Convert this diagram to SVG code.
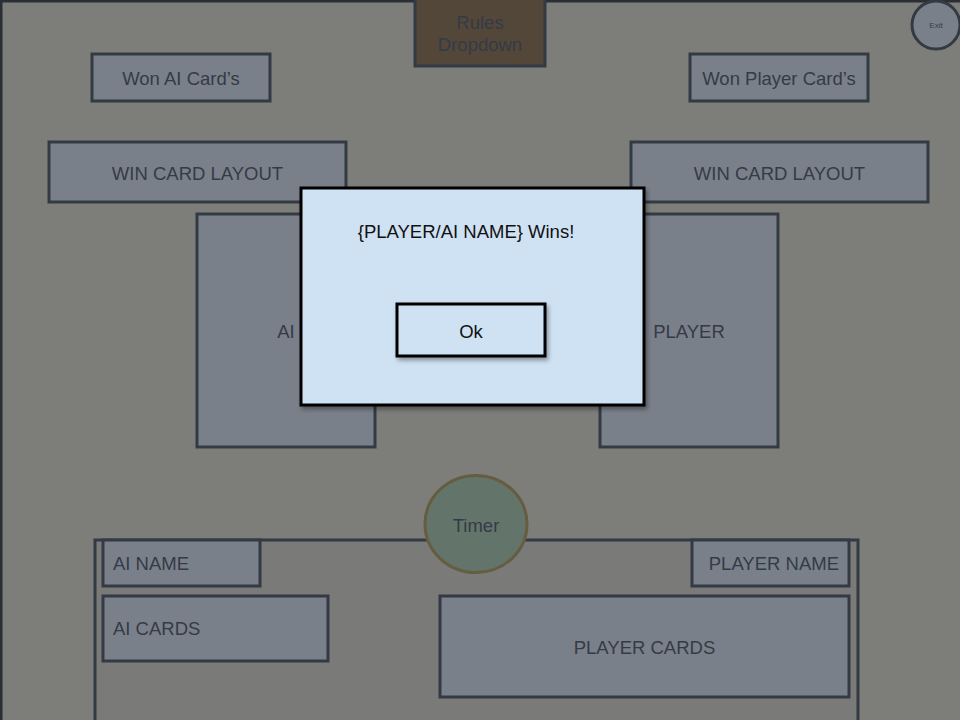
<svg xmlns="http://www.w3.org/2000/svg" width="960" height="720" viewBox="0 0 960 720">
<defs>
<style>
text{font-family:"Liberation Sans",Arial,Helvetica,sans-serif;font-size:18.5px;fill:#343b46}
.box{fill:#7a808a;stroke:#333a44;stroke-width:3}
.c{text-anchor:middle}
.dlg{fill:#cfe2f3;stroke:#000;stroke-width:3}
.dt{fill:#111;font-size:18.5px}
</style>
<filter id="sh" x="-10%" y="-10%" width="130%" height="140%">
<feDropShadow dx="2" dy="3" stdDeviation="2" flood-color="#000" flood-opacity="0.35"/>
</filter>
</defs>
<rect x="0" y="0" width="960" height="720" fill="#7d7e79"/>
<g id="frame"><rect x="1" y="1" width="1000" height="1000" fill="none" stroke="#2a2f36" stroke-width="3"/></g>
<g id="connectors"></g>
<g id="rules"><rect x="415" y="-3" width="130" height="69" fill="#534739" stroke="#333a44" stroke-width="3"/><text class="c" x="480" y="28.5">Rules</text><text class="c" x="480" y="51">Dropdown</text></g>
<g id="exit"><circle cx="936" cy="25" r="24" fill="#7a808a" stroke="#333a44" stroke-width="3"/><text class="c" x="936" y="27.5" style="font-size:8px">Exit</text></g>
<g id="won-ai"><rect class="box" x="92" y="54" width="178" height="47"/><text class="c" x="181" y="84.5">Won AI Card’s</text></g>
<g id="won-player"><rect class="box" x="690" y="54" width="178" height="47"/><text class="c" x="779" y="84.5">Won Player Card’s</text></g>
<g id="win-layout-left"><rect class="box" x="49" y="142" width="297" height="60"/><text class="c" x="197.5" y="180">WIN CARD LAYOUT</text></g>
<g id="win-layout-right"><rect class="box" x="631" y="142" width="297" height="60"/><text class="c" x="779.5" y="180">WIN CARD LAYOUT</text></g>
<g id="ai-card"><rect class="box" x="197" y="214" width="178" height="233"/><text class="c" x="286" y="337.5">AI</text></g>
<g id="player-card"><rect class="box" x="600" y="214" width="178" height="233"/><text class="c" x="689" y="337.5">PLAYER</text></g>
<g id="board"><rect x="95" y="540" width="763" height="300" fill="#7a7a79" stroke="#333a44" stroke-width="3"/></g>
<g id="ai-name"><rect class="box" x="103" y="540" width="157" height="46"/><text x="113" y="570">AI NAME</text></g>
<g id="ai-cards"><rect class="box" x="103" y="596" width="225" height="65"/><text x="113" y="635">AI CARDS</text></g>
<g id="player-name"><rect class="box" x="692" y="540" width="157" height="46"/><text x="839" y="570" style="text-anchor:end">PLAYER NAME</text></g>
<g id="player-cards"><rect class="box" x="440" y="596" width="409" height="101"/><text class="c" x="644.5" y="653.5">PLAYER CARDS</text></g>
<g id="timer"><ellipse cx="476" cy="524" rx="51" ry="48.5" fill="#63756b" stroke="#665d40" stroke-width="3"/><text class="c" x="476" y="531.5">Timer</text></g>
<g id="dialog"><rect class="dlg" x="301" y="188" width="343" height="217" filter="url(#sh)"/><text class="c dt" x="466" y="238">{PLAYER/AI NAME} Wins!</text></g>
<g id="ok"><rect class="dlg" x="397" y="304" width="148" height="52" filter="url(#sh)"/><text class="c dt" x="471" y="337.5">Ok</text></g>
</svg>
